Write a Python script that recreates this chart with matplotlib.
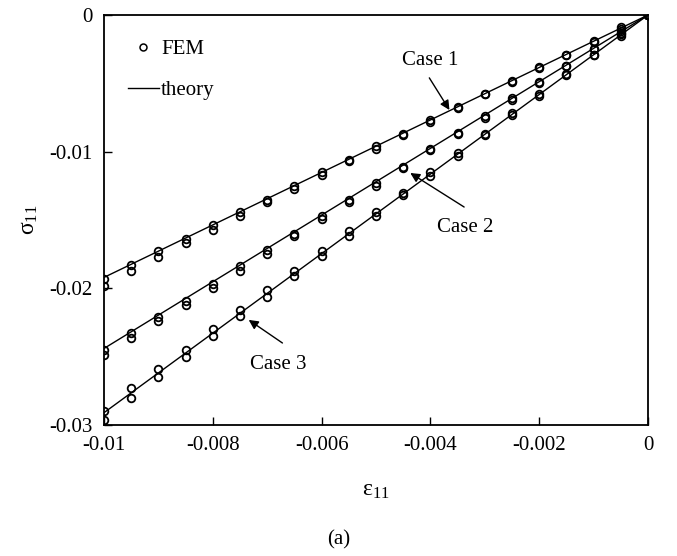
import matplotlib
matplotlib.use("Agg")
import matplotlib.pyplot as plt

plt.rcParams['font.family'] = ['Liberation Serif', 'DejaVu Serif']
plt.rcParams['mathtext.fontset'] = 'custom'
plt.rcParams['mathtext.rm'] = 'Liberation Serif'
plt.rcParams['mathtext.it'] = 'Liberation Serif'

# strain steps of the FEM runs
eps = [-0.01, -0.0095, -0.009, -0.0085, -0.008, -0.0075, -0.007, -0.0065,
       -0.006, -0.0055, -0.005, -0.0045, -0.004, -0.0035, -0.003, -0.0025,
       -0.002, -0.0015, -0.001, -0.0005, 0.0]

# FEM stress, two result sets per case
fem1_a = [-0.0193, -0.0183, -0.0173, -0.0164, -0.0154, -0.0144, -0.0135, -0.0125,
          -0.0115, -0.0106, -0.0096, -0.0087, -0.0077, -0.0067, -0.0058, -0.0048,
          -0.0038, -0.0029, -0.0019, -0.0009, 0.0]
fem1_b = [-0.0198, -0.0187, -0.0177, -0.0167, -0.0157, -0.0147, -0.0137, -0.0127,
          -0.0117, -0.0107, -0.0098, -0.0088, -0.0078, -0.0068, -0.0058, -0.0049,
          -0.0039, -0.0029, -0.0020, -0.0010, 0.0]
fem2_a = [-0.0245, -0.0233, -0.0221, -0.0209, -0.0197, -0.0184, -0.0172, -0.0160,
          -0.0147, -0.0135, -0.0123, -0.0111, -0.0098, -0.0086, -0.0074, -0.0061,
          -0.0049, -0.0037, -0.0025, -0.0012, 0.0]
fem2_b = [-0.0249, -0.0236, -0.0224, -0.0212, -0.0200, -0.0187, -0.0175, -0.0162,
          -0.0149, -0.0137, -0.0125, -0.0112, -0.0099, -0.0087, -0.0075, -0.0062,
          -0.0050, -0.0037, -0.0025, -0.0013, 0.0]
fem3_a = [-0.0290, -0.0273, -0.0259, -0.0245, -0.0230, -0.0216, -0.0201, -0.0187,
          -0.0173, -0.0158, -0.0144, -0.0130, -0.0115, -0.0101, -0.0087, -0.0072,
          -0.0058, -0.0043, -0.0029, -0.0014, 0.0]
fem3_b = [-0.0296, -0.0280, -0.0265, -0.0250, -0.0235, -0.0220, -0.0206, -0.0191,
          -0.0176, -0.0162, -0.0147, -0.0132, -0.0118, -0.0103, -0.0088, -0.0073,
          -0.0059, -0.0044, -0.0029, -0.0015, 0.0]

# analytical (linear) solution, end points
theory_eps = [-0.01, 0.0]
theory1 = [-0.0192, 0.0]
theory2 = [-0.0244, 0.0]
theory3 = [-0.0291, 0.0]

fig = plt.figure(figsize=(6.77, 5.56), dpi=100)
ax = fig.add_axes([104 / 677, 1 - 425 / 556, 544 / 677, 410 / 556])

mk = dict(ls='none', marker='o', mfc='none', mec='black', ms=5.5, mew=1.3)
for a, b in [(fem1_a, fem1_b), (fem2_a, fem2_b), (fem3_a, fem3_b)]:
    ax.plot(eps, a, **mk)
    ax.plot(eps, b, **mk)
for th in [theory1, theory2, theory3]:
    ax.plot(theory_eps, th, color='black', lw=1.0)

# legend proxies
h_fem, = ax.plot([], [], ls='none', marker='o', mfc='none', mec='black',
                 ms=5, mew=1.1)
h_th, = ax.plot([], [], color='black', lw=1.0)
ax.legend([h_fem, h_th], ['FEM', 'theory'], loc='upper left',
          bbox_to_anchor=(0.017, 0.975), frameon=False, fontsize=15,
          handlelength=1.5, handletextpad=0.1, labelspacing=1.0, borderpad=0.2)

arr = dict(arrowstyle='-|>', color='black', lw=1.0, mutation_scale=14,
           shrinkA=0, shrinkB=0)
ax.text(-0.0040, -0.0033, 'Case 1', ha='center', va='center', fontsize=15)
ax.annotate('', xy=(-0.00365, -0.00695), xytext=(-0.00402, -0.0046),
            arrowprops=arr)
ax.text(-0.00336, -0.01558, 'Case 2', ha='center', va='center', fontsize=15)
ax.annotate('', xy=(-0.00437, -0.01156), xytext=(-0.00338, -0.01405),
            arrowprops=arr)
ax.text(-0.00679, -0.0256, 'Case 3', ha='center', va='center', fontsize=15)
ax.annotate('', xy=(-0.00734, -0.02231), xytext=(-0.00672, -0.0240),
            arrowprops=arr)

ax.set_xlim(-0.01, 0)
ax.set_ylim(-0.03, 0)
ax.set_xticks([-0.01, -0.008, -0.006, -0.004, -0.002, 0])
ax.set_xticklabels(['-0.01', '-0.008', '-0.006', '-0.004', '-0.002', '0'])
ax.set_yticks([-0.03, -0.02, -0.01, 0])
ax.set_yticklabels(['-0.03', '-0.02', '-0.01', '0'])
ax.tick_params(direction='in', length=6, width=1.0, labelsize=15, pad=8)
for s in ax.spines.values():
    s.set_linewidth(1.3)

ax.set_xlabel(r'$\mathrm{\varepsilon_{11}}$', fontsize=17, labelpad=18)
ax.set_ylabel(r'$\mathrm{\sigma_{11}}$', fontsize=17, labelpad=7)
fig.text(0.5, 1 - 540 / 556, '(a)', ha='center', va='center', fontsize=15)

fig.savefig('out.png', dpi=100)
